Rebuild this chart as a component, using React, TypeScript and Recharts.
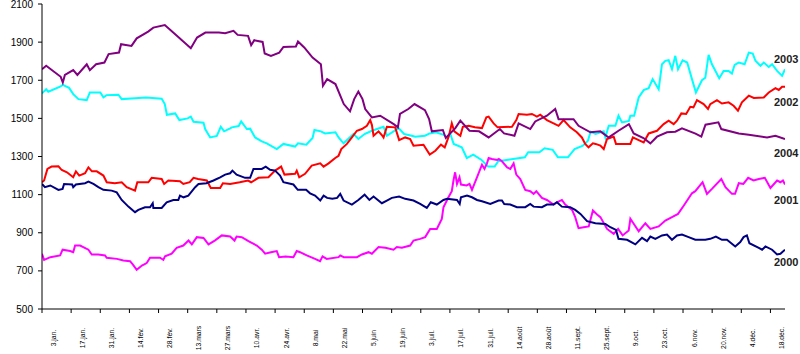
import React from "react";
import { LineChart, Line, XAxis, YAxis } from "recharts";

const tickLabels = [
  "3.jan.", "17.jan.", "31.jan.", "14.fév.", "28.fév.", "13.mars", "27.mars", "10.avr.", "24.avr.",
  "8.mai", "22.mai", "5.juin", "19.juin", "3.juil.", "17.juil.", "31.juil.", "14.août", "28.août",
  "11.sept.", "25.sept.", "9.oct.", "23.oct.", "6.nov.", "20.nov.", "4.déc.", "18.déc.",
];
const tickDays = tickLabels.map((_, i) => i * 14);
const yTicks = [500, 700, 900, 1100, 1300, 1500, 1700, 1900, 2100];

// day offsets from start of year and values, one pair of arrays per year
const days2004 = [0, 2, 9, 10, 11, 15, 17, 21.5, 23, 26, 30, 32, 37, 38, 43, 45.5, 51, 53.5, 59, 64, 71.5, 74.5, 78.5, 85, 88, 92, 94, 99, 100.5, 102, 106, 107, 110, 114, 116, 122, 123, 126, 130, 134, 135, 137, 141, 145, 148, 150, 152, 154, 155.3, 158.5, 162.5, 169, 171, 172, 176, 179, 184, 186, 187.3, 192.6, 194, 198.6, 201, 205.4, 210, 214.6, 220, 222, 227, 229, 234.6, 237, 242.6, 246.6, 248.2, 255.4, 257.8, 263.5, 268.3, 272.3, 277, 282, 284.3, 289, 292.3, 295.5, 300.3, 304.3, 307.5, 314, 316.8, 318.8, 325, 326.4, 334.8, 339.6, 348.4, 352.4, 357];
const vals2004 = [1758, 1776, 1718, 1688, 1728, 1753, 1728, 1784, 1753, 1784, 1793, 1837, 1845, 1889, 1880, 1920, 1955, 1976, 1990, 1941, 1868, 1924, 1950, 1950, 1947, 1959, 1938, 1933, 1884, 1910, 1901, 1840, 1828, 1845, 1875, 1877, 1903, 1872, 1819, 1784, 1671, 1706, 1680, 1575, 1537, 1601, 1641, 1601, 1549, 1505, 1514, 1470, 1453, 1523, 1549, 1575, 1543, 1496, 1432, 1439, 1397, 1449, 1488, 1435, 1432, 1400, 1444, 1421, 1409, 1474, 1444, 1484, 1514, 1549, 1496, 1496, 1461, 1427, 1432, 1400, 1435, 1470, 1421, 1397, 1369, 1404, 1427, 1430, 1448, 1420, 1404, 1467, 1479, 1444, 1421, 1414, 1400, 1409, 1392];

const days2003 = [0, 2, 3, 8.7, 10, 13, 15, 17.5, 21.5, 23, 28, 29.5, 31, 36.7, 38.3, 44.7, 50, 57.5, 59, 60, 64, 66, 70, 71.5, 72.8, 77.6, 78.4, 80.8, 84, 85.9, 87.5, 90.4, 91.2, 94.5, 95.7, 98.4, 100, 102.4, 105.6, 108, 112.8, 116, 121.6, 123, 127, 130, 130.9, 134, 136, 141, 142.5, 144.9, 149.7, 152, 155, 158.5, 164.1, 165.7, 171.3, 174, 177.7, 179.3, 184, 186.3, 189.3, 193, 194.5, 196.2, 197.8, 201.7, 204.1, 207.2, 211.2, 214.4, 217.5, 219.2, 226.4, 232, 233.6, 239, 241.5, 245.4, 247.9, 252.7, 255.9, 259.9, 262.3, 263.6, 266, 269.9, 270.7, 272.3, 275.5, 277, 278.7, 282, 282.7, 284.5, 286.7, 289.1, 291.5, 293.4, 296.3, 297.9, 299.5, 301.1, 302.7, 304.3, 305.6, 307.8, 310, 312.3, 314.2, 317.1, 318.7, 320.3, 321.9, 325.4, 327.5, 329.9, 331.5, 332.8, 334.8, 337.6, 339.6, 341.5, 342.8, 345.2, 346.8, 349.2, 350.8, 353.2, 355.6, 357];
const vals2003 = [1631, 1653, 1640, 1666, 1676, 1660, 1627, 1601, 1596, 1636, 1636, 1610, 1622, 1624, 1601, 1606, 1610, 1603, 1575, 1519, 1526, 1491, 1500, 1509, 1482, 1477, 1444, 1400, 1408, 1456, 1432, 1448, 1453, 1460, 1484, 1444, 1446, 1400, 1379, 1369, 1339, 1366, 1352, 1369, 1362, 1397, 1439, 1432, 1421, 1427, 1400, 1369, 1418, 1392, 1418, 1435, 1456, 1409, 1449, 1418, 1409, 1404, 1409, 1421, 1427, 1414, 1400, 1418, 1366, 1348, 1292, 1310, 1282, 1247, 1247, 1275, 1287, 1296, 1322, 1322, 1343, 1335, 1296, 1296, 1339, 1357, 1383, 1430, 1418, 1432, 1400, 1461, 1461, 1514, 1479, 1487, 1514, 1514, 1610, 1648, 1658, 1706, 1653, 1784, 1802, 1805, 1758, 1828, 1758, 1805, 1793, 1706, 1636, 1700, 1713, 1833, 1784, 1711, 1749, 1749, 1735, 1781, 1793, 1784, 1845, 1840, 1802, 1776, 1793, 1770, 1784, 1749, 1723, 1758];

const days2002 = [0, 1, 2.6, 4.6, 7.9, 9.5, 12, 15, 16.3, 17.9, 20.7, 22.3, 24, 26.3, 29.5, 31.1, 35, 38.3, 40.7, 44.7, 45.8, 51.1, 52.7, 57.5, 58.7, 60.7, 66.3, 67.9, 71, 72.8, 75, 79.2, 81.1, 85.6, 86.9, 90.4, 95, 99, 100.5, 104, 108.8, 112, 114.9, 116.5, 121.6, 122.4, 123.6, 126.4, 129.6, 133.7, 135.3, 137.7, 140.9, 142.5, 143.8, 146.5, 148.9, 151.3, 153.7, 156.1, 157.7, 158.5, 159.3, 161.7, 163.5, 164.1, 165.7, 169.7, 171.6, 174.5, 176.9, 178.5, 183.3, 186.3, 189, 191.7, 193.5, 195.4, 196.9, 198.1, 201, 202.2, 205, 208, 211.4, 213.5, 214.6, 217, 218.9, 225.8, 227.9, 229, 233, 235.4, 237.8, 239.4, 242.6, 245.8, 248.2, 250.6, 253.8, 257, 259.4, 261, 262.6, 264.7, 266, 268.3, 269.9, 271.5, 274.7, 275.8, 282.7, 283.9, 286.7, 289.1, 291.5, 295.5, 298.7, 301.1, 303.5, 305.1, 307.2, 309.5, 311.5, 313, 314.7, 317.9, 320, 321.1, 324.3, 326.7, 329.9, 332.3, 334.4, 336.3, 339.6, 342, 346.8, 349.2, 352.4, 354, 355.6, 357];
const vals2002 = [1165, 1174, 1235, 1247, 1249, 1229, 1217, 1191, 1222, 1200, 1212, 1243, 1222, 1222, 1200, 1165, 1160, 1165, 1139, 1121, 1165, 1165, 1188, 1182, 1156, 1174, 1170, 1156, 1165, 1188, 1182, 1174, 1135, 1135, 1160, 1156, 1165, 1174, 1165, 1188, 1191, 1226, 1247, 1205, 1209, 1226, 1191, 1209, 1252, 1264, 1247, 1264, 1292, 1304, 1339, 1366, 1400, 1435, 1444, 1461, 1491, 1466, 1409, 1432, 1409, 1400, 1456, 1453, 1386, 1400, 1392, 1357, 1362, 1310, 1330, 1362, 1348, 1404, 1474, 1432, 1409, 1456, 1461, 1453, 1449, 1505, 1509, 1474, 1453, 1456, 1491, 1523, 1519, 1523, 1509, 1519, 1491, 1474, 1461, 1491, 1453, 1427, 1400, 1366, 1348, 1369, 1366, 1357, 1339, 1392, 1404, 1366, 1366, 1400, 1386, 1374, 1421, 1435, 1470, 1488, 1470, 1488, 1526, 1523, 1561, 1558, 1596, 1575, 1549, 1575, 1596, 1578, 1584, 1566, 1540, 1584, 1619, 1607, 1610, 1636, 1659, 1649, 1666, 1666];

const days2000 = [0, 1.4, 4, 7.9, 9.9, 10.6, 14.5, 15, 16.3, 20.7, 22.3, 24.7, 27.1, 29.5, 33.5, 35.9, 38.3, 41.5, 44.7, 46.3, 49.5, 51.9, 53.2, 53.5, 57.5, 59.9, 63.1, 65.5, 66.3, 68, 70.3, 73.6, 75.2, 79, 82.4, 85.6, 88, 90.4, 91.5, 93.5, 97.6, 100, 101.6, 105.6, 107.5, 109.6, 112, 114.4, 116, 120.8, 122.9, 126.9, 128.8, 131.2, 133.7, 135.3, 137, 139.5, 141.8, 143.3, 144.9, 148.9, 152, 155, 157.3, 159.3, 163.3, 165.7, 168.1, 171.6, 174.5, 178.5, 181.7, 184.9, 186.8, 189.7, 192.9, 194.6, 199.4, 200.7, 201.3, 204.2, 206.6, 209, 211.4, 215.4, 219.4, 221, 222.1, 225, 228.2, 232.2, 234.6, 236.2, 240.2, 242.6, 245.8, 247.4, 249.8, 253.8, 256.2, 258.7, 261.9, 265.9, 270.7, 273.1, 275.8, 277, 281.1, 285.1, 288.3, 290.7, 292.3, 294.7, 297.9, 300.3, 302.7, 305.1, 307.5, 310.7, 313.9, 318.7, 321.1, 323.8, 326.7, 329.1, 333.1, 335.5, 337.1, 338.7, 339.9, 344.4, 346, 347.6, 350.8, 353.2, 354.8, 355.6, 357];
const vals2000 = [1156, 1139, 1148, 1125, 1130, 1156, 1153, 1139, 1153, 1160, 1168, 1156, 1139, 1125, 1121, 1112, 1072, 1037, 1008, 1020, 1034, 1034, 1055, 1030, 1030, 1060, 1072, 1072, 1095, 1086, 1095, 1139, 1156, 1160, 1174, 1191, 1205, 1212, 1226, 1205, 1188, 1188, 1235, 1235, 1247, 1230, 1226, 1200, 1165, 1153, 1125, 1125, 1107, 1095, 1069, 1095, 1083, 1078, 1083, 1104, 1069, 1048, 1072, 1100, 1072, 1090, 1055, 1069, 1083, 1090, 1078, 1069, 1051, 1030, 1060, 1048, 1072, 1078, 1072, 1051, 1086, 1095, 1086, 1072, 1065, 1051, 1069, 1069, 1051, 1048, 1034, 1034, 1051, 1037, 1034, 1048, 1048, 1060, 1037, 1034, 1020, 999, 961, 950, 946, 929, 915, 868, 863, 839, 873, 856, 880, 868, 886, 891, 863, 886, 891, 877, 863, 863, 868, 880, 863, 863, 828, 851, 877, 886, 845, 821, 811, 828, 811, 786, 790, 798, 811];

const days2001 = [0, 1, 4, 8.7, 9.9, 13.5, 15, 15.9, 18.3, 22.3, 23.9, 27, 30.3, 31.1, 36, 39.1, 42.3, 43.6, 45.5, 48, 50.3, 51.9, 56.7, 58.3, 59.1, 62.3, 64.7, 67.9, 70.4, 72, 74.4, 77.6, 80, 83, 86.4, 90.4, 92.5, 93.5, 96, 99.2, 103.2, 105.6, 107.2, 110, 112.8, 113.9, 117, 120.8, 122.4, 124, 127.2, 131.2, 133.6, 134.8, 136.8, 142.5, 143.3, 145, 151.3, 153.7, 156.9, 158.5, 161.7, 165, 168.9, 170.5, 172.9, 176.9, 178.5, 181.7, 184.1, 186.5, 189.7, 192.1, 192.9, 195.3, 196.9, 197.7, 198.5, 199.4, 200.6, 201.3, 204, 205.4, 206.6, 209, 211.4, 212.6, 213.8, 214.6, 216.2, 218.7, 219.5, 221, 223.5, 225, 226.6, 227.9, 229.8, 232.2, 234.6, 236.2, 237.5, 240.2, 242.6, 245.8, 247.4, 249.8, 251.4, 254.7, 256.2, 257.8, 260.2, 262.7, 264.7, 266.7, 268.3, 271.5, 274.7, 276.8, 279, 281.9, 282.7, 284.3, 286.7, 289.9, 292.3, 296.3, 299.5, 302.7, 305.6, 308.4, 312.3, 313.9, 317.4, 319.5, 321.9, 326.4, 328.4, 331.5, 333, 334.8, 337, 339.3, 341.9, 344.4, 347.3, 350, 353.2, 354.8, 356, 357];
const vals2001 = [790, 758, 772, 781, 811, 804, 798, 833, 833, 811, 786, 786, 781, 769, 763, 755, 751, 734, 706, 728, 741, 769, 769, 758, 776, 790, 821, 833, 859, 839, 877, 873, 839, 859, 886, 880, 859, 880, 877, 856, 833, 811, 790, 798, 804, 772, 776, 772, 804, 798, 781, 763, 751, 776, 763, 772, 781, 772, 772, 786, 798, 790, 825, 821, 811, 825, 821, 833, 859, 868, 877, 920, 920, 973, 1034, 1086, 1118, 1174, 1217, 1156, 1191, 1153, 1148, 1156, 1125, 1191, 1257, 1235, 1264, 1292, 1287, 1282, 1287, 1275, 1243, 1235, 1264, 1205, 1182, 1125, 1118, 1104, 1118, 1083, 1072, 1048, 1060, 1072, 1048, 1020, 982, 924, 929, 933, 1017, 996, 982, 920, 894, 920, 886, 912, 973, 947, 908, 950, 920, 933, 964, 982, 999, 1043, 1107, 1118, 1165, 1104, 1130, 1182, 1139, 1104, 1104, 1160, 1156, 1188, 1174, 1182, 1188, 1135, 1174, 1165, 1174, 1153];

const zip = (ds: number[], vs: number[]) => ds.map((d, i) => ({ day: d, v: vs[i] }));

const series = [
  { name: "2003", color: "#00FFFF", data: zip(days2003, vals2003), dy: -6 },
  { name: "2002", color: "#FF0000", data: zip(days2002, vals2002), dy: 19 },
  { name: "2004", color: "#800080", data: zip(days2004, vals2004), dy: 18 },
  { name: "2001", color: "#FF00FF", data: zip(days2001, vals2001), dy: 19 },
  { name: "2000", color: "#000080", data: zip(days2000, vals2000), dy: 16 },
];

const font = "'Liberation Sans', Arial, sans-serif";

const XTick = (props: any) => {
  const { x, payload, index } = props;
  return (
    <g transform={`translate(${x + 13.5},338)`}>
      <text transform="rotate(-90) scale(0.85,1)" textAnchor="middle" fontSize={8} fontFamily={font} fill="#000">
        {tickLabels[index] ?? payload.value}
      </text>
    </g>
  );
};

export default function App() {
  return (
    <div style={{ position: "absolute", left: 0, top: 0, width: 800, height: 354, background: "#fff" }}>
      <LineChart width={800} height={354} margin={{ top: 4, right: 15, bottom: 0, left: 0 }}>
        <XAxis
          type="number"
          dataKey="day"
          domain={[0, 357]}
          ticks={tickDays}
          interval={0}
          tick={<XTick />}
          tickSize={4}
          height={45}
          axisLine={{ stroke: "#000" }}
          tickLine={{ stroke: "#000" }}
          allowDataOverflow
        />
        <YAxis
          type="number"
          domain={[500, 2100]}
          ticks={yTicks}
          interval={0}
          width={42}
          tickSize={4}
          tickMargin={5}
          axisLine={{ stroke: "#000" }}
          tickLine={{ stroke: "#000" }}
          tick={{ fontSize: 10, fontFamily: font, fill: "#000" }}
        />
        {series.map((s) => (
          <Line
            key={s.name}
            data={s.data}
            dataKey="v"
            type="linear"
            stroke={s.color}
            strokeWidth={2}
            dot={false}
            isAnimationActive={false}
            label={(p: any) =>
              p.index === s.data.length - 1 ? (
                <text key={s.name} x={p.x - 11} y={p.y + s.dy} fontSize={11} fontWeight="bold" fontFamily={font} fill="#222">
                  {s.name}
                </text>
              ) : (
                <g key={`${s.name}-${p.index}`} />
              )
            }
          />
        ))}
      </LineChart>
    </div>
  );
}
